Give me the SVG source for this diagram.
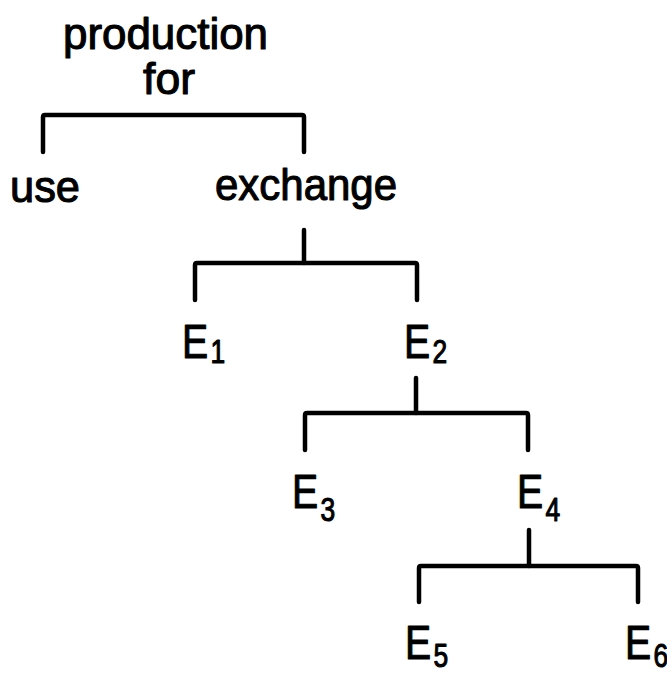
<svg xmlns="http://www.w3.org/2000/svg" width="667" height="676" viewBox="0 0 667 676">
  <style>
    text { font-family: "Liberation Sans", "DejaVu Sans", sans-serif; fill: #000; stroke: #000; stroke-width: 1.1; stroke-linejoin: round; }
    .word { font-size: 44px; }
    .cap { font-size: 49px; }
    .sub { font-size: 33px; }
    .link { fill: none; stroke: #000; stroke-width: 4.5; stroke-linecap: round; stroke-linejoin: round; }
  </style>
  <rect width="667" height="676" fill="#fff"/>

  <!-- branching brackets -->
  <g id="connectors">
    <path class="link" d="M43,152 V117 Q43,115 45,115 H302 Q304,115 304,117 V152"/>
    <path class="link" d="M304,230 V263"/>
    <path class="link" d="M195,300 V265 Q195,263 197,263 H415 Q417,263 417,265 V300"/>
    <path class="link" d="M416,378 V413"/>
    <path class="link" d="M305,450 V415 Q305,413 307,413 H526 Q528,413 528,415 V450"/>
    <path class="link" d="M529,530 V566"/>
    <path class="link" d="M419,602 V568 Q419,566 421,566 H636 Q638,566 638,568 V602"/>
  </g>

  <g id="root">
    <text class="word" x="63" y="49" textLength="205" lengthAdjust="spacingAndGlyphs">production</text>
    <text class="word" x="143" y="94" textLength="52" lengthAdjust="spacingAndGlyphs">for</text>
  </g>
  <g id="use">
    <text class="word" x="10" y="202" textLength="70" lengthAdjust="spacingAndGlyphs">use</text>
  </g>
  <g id="exchange">
    <text class="word" x="215" y="200" textLength="182" lengthAdjust="spacingAndGlyphs">exchange</text>
  </g>

  <!-- E labels: narrow capital with its index set low -->
  <g id="E1">
    <text transform="translate(182,358) scale(0.8,1)"><tspan class="cap">E</tspan><tspan class="sub" dx="3" dy="5">1</tspan></text>
  </g>
  <g id="E2">
    <text transform="translate(404,358) scale(0.8,1)"><tspan class="cap">E</tspan><tspan class="sub" dx="3" dy="5">2</tspan></text>
  </g>
  <g id="E3">
    <text transform="translate(292,508) scale(0.8,1)"><tspan class="cap">E</tspan><tspan class="sub" dx="3" dy="13">3</tspan></text>
  </g>
  <g id="E4">
    <text transform="translate(517,508) scale(0.8,1)"><tspan class="cap">E</tspan><tspan class="sub" dx="3" dy="13">4</tspan></text>
  </g>
  <g id="E5">
    <text transform="translate(405,659) scale(0.8,1)"><tspan class="cap">E</tspan><tspan class="sub" dx="3" dy="8">5</tspan></text>
  </g>
  <g id="E6">
    <text transform="translate(625,659) scale(0.8,1)"><tspan class="cap">E</tspan><tspan class="sub" dx="3" dy="8">6</tspan></text>
  </g>
</svg>
